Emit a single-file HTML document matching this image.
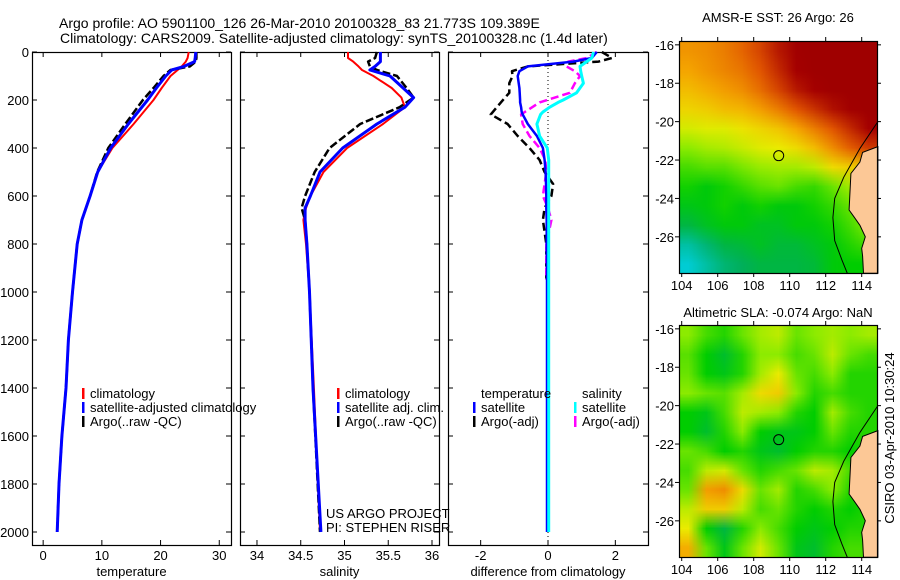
<!DOCTYPE html>
<html><head><meta charset="utf-8">
<style>
body{margin:0;background:#fff;width:900px;height:580px;overflow:hidden;position:relative;font-family:"Liberation Sans",Arial,sans-serif;}
canvas{position:absolute;image-rendering:auto;}
svg{position:absolute;left:0;top:0;}
text{font-family:"Liberation Sans",Arial,sans-serif;font-size:13px;fill:#000;}
</style></head>
<body>
<canvas id="sst" width="11" height="12" style="left:679px;top:41px;width:198px;height:232px"></canvas>
<canvas id="sla" width="11" height="12" style="left:679px;top:325px;width:198px;height:232px"></canvas>
<svg id="svg" width="900" height="580"></svg>
<script>
// ---- data ----
const depthT=[0,25,40,60,75,100,150,200,300,400,500,600,700,800,1000,1200,1400,1600,1800,2000];
const tempClim=[24.8,24.6,24.3,23.6,22.9,21.7,20.2,18.8,15.4,11.8,9.3,8.0,6.6,5.8,5.0,4.3,3.9,3.2,2.7,2.4];
const tempSat=[26.0,25.9,25.8,24.0,21.9,20.9,19.3,17.8,14.5,11.5,9.3,8.0,6.6,5.8,5.0,4.3,3.9,3.2,2.7,2.4];
const tempArgo=[26.1,26.1,26.0,25.0,21.7,20.5,18.8,17.0,14.0,11.1,9.2,8.0,6.6,5.8,5.0,4.3,3.9,3.2,2.7,2.4];
const depthS=[0,25,40,60,75,100,150,190,230,300,400,500,600,650,700,800,1000,1400,2000];
const salClim=[35.04,35.04,35.10,35.16,35.2,35.33,35.54,35.65,35.69,35.44,35.03,34.76,34.61,34.56,34.53,34.56,34.6,34.65,34.72];
const salSat=[35.41,35.41,35.41,35.35,35.29,35.52,35.67,35.79,35.69,35.37,34.98,34.72,34.61,34.55,34.55,34.57,34.6,34.64,34.73];
const salArgo=[35.37,35.35,35.27,35.29,35.37,35.6,35.71,35.79,35.63,35.18,34.83,34.66,34.55,34.51,34.55,34.57,34.6,34.64,34.72];
const depthD=[0,25,40,60,80,100,130,150,170,200,210,230,250,260,300,350,400,450,500,550,600,650,700,750,800,900,950,1200,1600,2000];
const dTempSat=[1.45,1.3,0.75,-0.6,-0.85,-0.9,-0.87,-0.85,-0.84,-0.83,-0.83,-0.8,-0.78,-0.75,-0.6,-0.33,-0.15,-0.1,-0.07,-0.06,-0.05,-0.05,-0.04,-0.04,-0.04,-0.03,-0.03,-0.03,-0.03,-0.03];
const dSalSat=[1.35,1.3,1.15,0.95,0.97,1.0,1.05,0.95,0.85,0.45,0.3,0.05,-0.15,-0.22,-0.33,-0.25,-0.02,0.02,0.02,0.02,0.02,0.02,0.02,0.02,0.02,0.02,0.02,0.02,0.02,0.02];
const depthA=[0,25,40,60,80,100,130,170,210,260,300,350,400,450,500,550,600,650,700,800,900,950];
const dTempArgo=[1.6,1.9,1.5,-0.6,-1.07,-1.05,-1.15,-1.15,-1.4,-1.7,-1.2,-0.9,-0.55,-0.25,-0.1,0.15,0.1,-0.1,-0.15,-0.05,-0.05,-0.05];
const dSalArgo=[1.45,1.15,0.6,0.55,0.8,0.95,0.8,0.65,-0.25,-0.8,-0.75,-0.55,-0.25,-0.08,-0.05,-0.1,-0.15,0.0,0.1,-0.05,-0.05,-0.05];
const yTicks=[0,200,400,600,800,1000,1200,1400,1600,1800,2000];
const tTicks=[0,10,20,30];
const sTicks=[34,34.5,35,35.5,36];
const dTicks=[-2,0,2];
const latTicks=[-16,-18,-20,-22,-24,-26];
const lonTicks=[104,106,108,110,112,114];
const sstGrid=[
[.77,.78,.80,.83,.87,.92,.96,.97,.97,.97,.97],
[.75,.77,.79,.81,.85,.90,.95,.97,.97,.97,.97],
[.72,.74,.76,.78,.82,.87,.92,.95,.97,.97,.97],
[.69,.70,.72,.73,.76,.80,.85,.89,.93,.96,.97],
[.64,.65,.65,.67,.69,.71,.75,.80,.85,.90,.95],
[.58,.60,.61,.63,.65,.66,.68,.72,.78,.84,.88],
[.54,.55,.55,.57,.59,.60,.60,.62,.68,.70,.70],
[.51,.49,.51,.53,.55,.56,.54,.53,.56,.60,.60],
[.48,.49,.51,.49,.51,.49,.49,.51,.53,.56,.58],
[.44,.47,.49,.49,.47,.47,.49,.49,.51,.54,.58],
[.36,.40,.44,.45,.47,.45,.45,.47,.49,.52,.54],
[.32,.36,.40,.42,.44,.44,.44,.45,.49,.50,.50]];
const slaGrid=[
[.58,.54,.52,.56,.60,.62,.56,.58,.60,.58,.60],
[.55,.50,.46,.52,.58,.58,.54,.56,.62,.56,.54],
[.56,.50,.48,.52,.60,.66,.56,.54,.58,.52,.52],
[.58,.56,.55,.60,.68,.70,.58,.52,.54,.52,.52],
[.50,.48,.54,.62,.60,.58,.52,.50,.60,.54,.52],
[.50,.46,.52,.58,.50,.48,.48,.50,.56,.52,.52],
[.56,.54,.50,.52,.48,.46,.50,.52,.52,.50,.52],
[.54,.62,.64,.56,.52,.54,.56,.62,.60,.54,.52],
[.56,.76,.78,.68,.56,.60,.52,.54,.58,.52,.52],
[.62,.70,.70,.62,.54,.56,.52,.50,.52,.50,.52],
[.66,.50,.44,.52,.58,.54,.50,.48,.50,.52,.52],
[.74,.56,.48,.56,.64,.56,.48,.46,.52,.54,.54]];
const landLon=[114.9,114.05,113.9,113.4,113.3,113.6,113.9,114.2,114.0,114.05,114.1,114.9];
const landLat=[-21.3,-21.6,-22.1,-22.7,-24.6,-25.0,-25.4,-26.0,-26.6,-27.0,-27.9,-27.9];
const shelfLon=[114.9,113.9,113.0,112.5,112.4,112.5,112.9,113.2];
const shelfLat=[-20.0,-21.4,-22.9,-24.0,-25.0,-26.2,-27.2,-27.9];
const argoLon=109.389, argoLat=-21.773;

// ---- helpers ----
const NS='http://www.w3.org/2000/svg';
const svg=document.getElementById('svg');
function el(tag,attrs,parent){const e=document.createElementNS(NS,tag);for(const k in attrs)e.setAttribute(k,attrs[k]);(parent||svg).appendChild(e);return e;}
function txt(x,y,s,anchor,parent){const t=el('text',{x:x,y:y,'text-anchor':anchor||'start'},parent);t.textContent=s;return t;}
const yTop=52,yBot=545;
function yD(d){return 52+d*0.24;}
function panel(name,x0,x1,xmin,xmax,ticks,label,showY){
  const g=el('g',{});
  
  
  const sx=v=>x0+(v-xmin)/(xmax-xmin)*(x1-x0);
  const box=el('rect',{x:x0+.5,y:yTop+.5,width:x1-x0,height:yBot-yTop,fill:'none',stroke:'#000','stroke-width':1.2},g);
  
  
  yTicks.forEach(d=>{const y=yD(d);
    el('line',{x1:x0,x2:x0+5,y1:y,y2:y,stroke:'#000'},g);
    el('line',{x1:x1-5,x2:x1,y1:y,y2:y,stroke:'#000'},g);
    if(showY){const t=txt(29,y+5,String(d),'end',g);}
  });
  ticks.forEach(v=>{const x=sx(v);
    el('line',{x1:x,x2:x,y1:yTop,y2:yTop+5,stroke:'#000'},g);
    el('line',{x1:x,x2:x,y1:yBot-5,y2:yBot,stroke:'#000'},g);
    const t=txt(x,560,String(v),'middle',g);
  });
  const l=txt((x0+x1)/2,576,label,'middle',g);
  
  
  return sx;
}
function series(name,sx,vals,depths,color,w,dash){
  const pts=vals.map((v,i)=>sx(v).toFixed(1)+','+yD(depths[i]).toFixed(1)).join(' ');
  const p=el('polyline',{points:pts,fill:'none',stroke:color,'stroke-width':w,'stroke-dasharray':dash||'none','stroke-linejoin':'round'});
  
  
}
function legend(x,y,items,parentName){
  const g=el('g',{});
  
  
  items.forEach((it,i)=>{const yy=y+i*14;
    if(it[1]) el('rect',{x:x,y:yy-10,width:2.5,height:11,fill:it[1]},g);
    txt(x+8,yy,it[0],'start',g);
  });
}

// titles
let t=txt(59,28,'Argo profile: AO 5901100_126 26-Mar-2010 20100328_83 21.773S 109.389E');t.style.fontSize='14px';
t=txt(60,43,'Climatology: CARS2009. Satellite-adjusted climatology: synTS_20100328.nc (1.4d later)');t.style.fontSize='14px';

// panel 1
const sT=panel('temperature-panel',32,231,-1.9,32,tTicks,'temperature',true);
series('temp-climatology',sT,tempClim,depthT,'#f00',2);
series('temp-argo',sT,tempArgo,depthT,'#000',2.5,'8,3');
series('temp-satellite',sT,tempSat,depthT,'#00f',3);
legend(82,398,[['climatology','#f00'],['satellite-adjusted climatology','#00f'],['Argo(..raw -QC)','#000']],'temp-legend');

// panel 2
const sS=panel('salinity-panel',240,439,33.806,36.08,sTicks,'salinity',false);
series('sal-climatology',sS,salClim,depthS,'#f00',2);
series('sal-argo',sS,salArgo,depthS,'#000',2.5,'8,3');
series('sal-satellite',sS,salSat,depthS,'#00f',3);
legend(337,398,[['climatology','#f00'],['satellite adj. clim.','#00f'],['Argo(..raw -QC)','#000']],'sal-legend');
t=txt(326,518,'US ARGO PROJECT');
t=txt(326,532,'PI: STEPHEN RISER');

// panel 3
const sD=panel('difference-panel',448,648,-2.97,2.97,dTicks,'difference from climatology',false);
el('line',{x1:sD(0),x2:sD(0),y1:yTop,y2:yBot,stroke:'#000','stroke-dasharray':'1,3'});
series('dtemp-argo',sD,dTempArgo,depthA,'#000',2.5,'8,4');
series('dsal-argo',sD,dSalArgo,depthA,'#f0f',2.5,'8,4');
series('dtemp-satellite',sD,dTempSat,depthD,'#00f',2.5);
series('dsal-satellite',sD,dSalSat,depthD,'#0ff',3);
legend(473,398,[['temperature',null],['satellite','#00f'],['Argo(-adj)','#000']],'temp-diff-legend');
legend(574,398,[['salinity',null],['satellite','#0ff'],['Argo(-adj)','#f0f']],'sal-diff-legend');

// maps
const cmapStops=[[0.30,[0,210,235]],[0.42,[0,175,90]],[0.50,[0,205,0]],[0.58,[140,235,0]],[0.66,[235,235,0]],[0.75,[245,165,0]],[0.85,[225,85,0]],[0.95,[165,0,0]],[1.0,[150,0,0]]];
function cmap(v){
  if(v<=cmapStops[0][0])return cmapStops[0][1];
  for(let i=1;i<cmapStops.length;i++){if(v<=cmapStops[i][0]){const a=cmapStops[i-1],b=cmapStops[i];const f=(v-a[0])/(b[0]-a[0]);return a[1].map((c,k)=>c+(b[1][k]-c)*f);}}
  return cmapStops[cmapStops.length-1][1];
}
function fillGrid(id,grid){
  const c=document.getElementById(id).getContext('2d');
  const img=c.createImageData(11,12);
  grid.forEach((row,j)=>row.forEach((v,i)=>{const k=(j*11+i)*4;const col=cmap(v);
    img.data[k]=col[0];img.data[k+1]=col[1];img.data[k+2]=col[2];img.data[k+3]=255;}));
  c.putImageData(img,0,0);
}
fillGrid('sst',sstGrid);fillGrid('sla',slaGrid);
function mapFrame(name,top,title,titleY){
  const x0=679,x1=877,bot=top+232;
  const lx=v=>x0+(v-103.85)*18;
  const ly=v=>top+(-15.8-v)*19.2;
  const g=el('g',{});
  
  
  const lp=landLon.map((v,i)=>lx(v).toFixed(1)+','+ly(landLat[i]).toFixed(1)).join(' ');
  const land=el('polygon',{points:lp,fill:'#fcc896',stroke:'#000','stroke-width':1},g);
  
  
  const sp=shelfLon.map((v,i)=>lx(v).toFixed(1)+','+ly(shelfLat[i]).toFixed(1)).join(' ');
  el('polyline',{points:sp,fill:'none',stroke:'#000','stroke-width':1},g);
  el('rect',{x:x0+.5,y:top+.5,width:x1-x0,height:bot-top,fill:'none',stroke:'#000','stroke-width':1.2},g);
  latTicks.forEach(v=>{const y=ly(v);
    el('line',{x1:x0-4,x2:x0,y1:y,y2:y,stroke:'#000'},g);
    el('line',{x1:x1,x2:x1+4,y1:y,y2:y,stroke:'#000'},g);
    txt(x0-5,y+5,String(v),'end',g);});
  lonTicks.forEach(v=>{const x=lx(v);
    el('line',{x1:x,x2:x,y1:top-4,y2:top,stroke:'#000'},g);
    el('line',{x1:x,x2:x,y1:bot,y2:bot+4,stroke:'#000'},g);
    txt(x,bot+17,String(v),'middle',g);});
  const c=el('circle',{cx:lx(argoLon),cy:ly(argoLat),r:5,fill:'none',stroke:'#000'},g);
  
  
  const tt=txt((x0+x1)/2,titleY,title,'middle',g);
  
  
}
mapFrame('sst-map',41,'AMSR-E SST: 26 Argo: 26',22);
mapFrame('sla-map',325,'Altimetric SLA: -0.074 Argo: NaN',317);
t=txt(0,0,'CSIRO 03-Apr-2010 10:30:24','middle');
t.setAttribute('transform','translate(894,438) rotate(-90)');


</script>
</body></html>
